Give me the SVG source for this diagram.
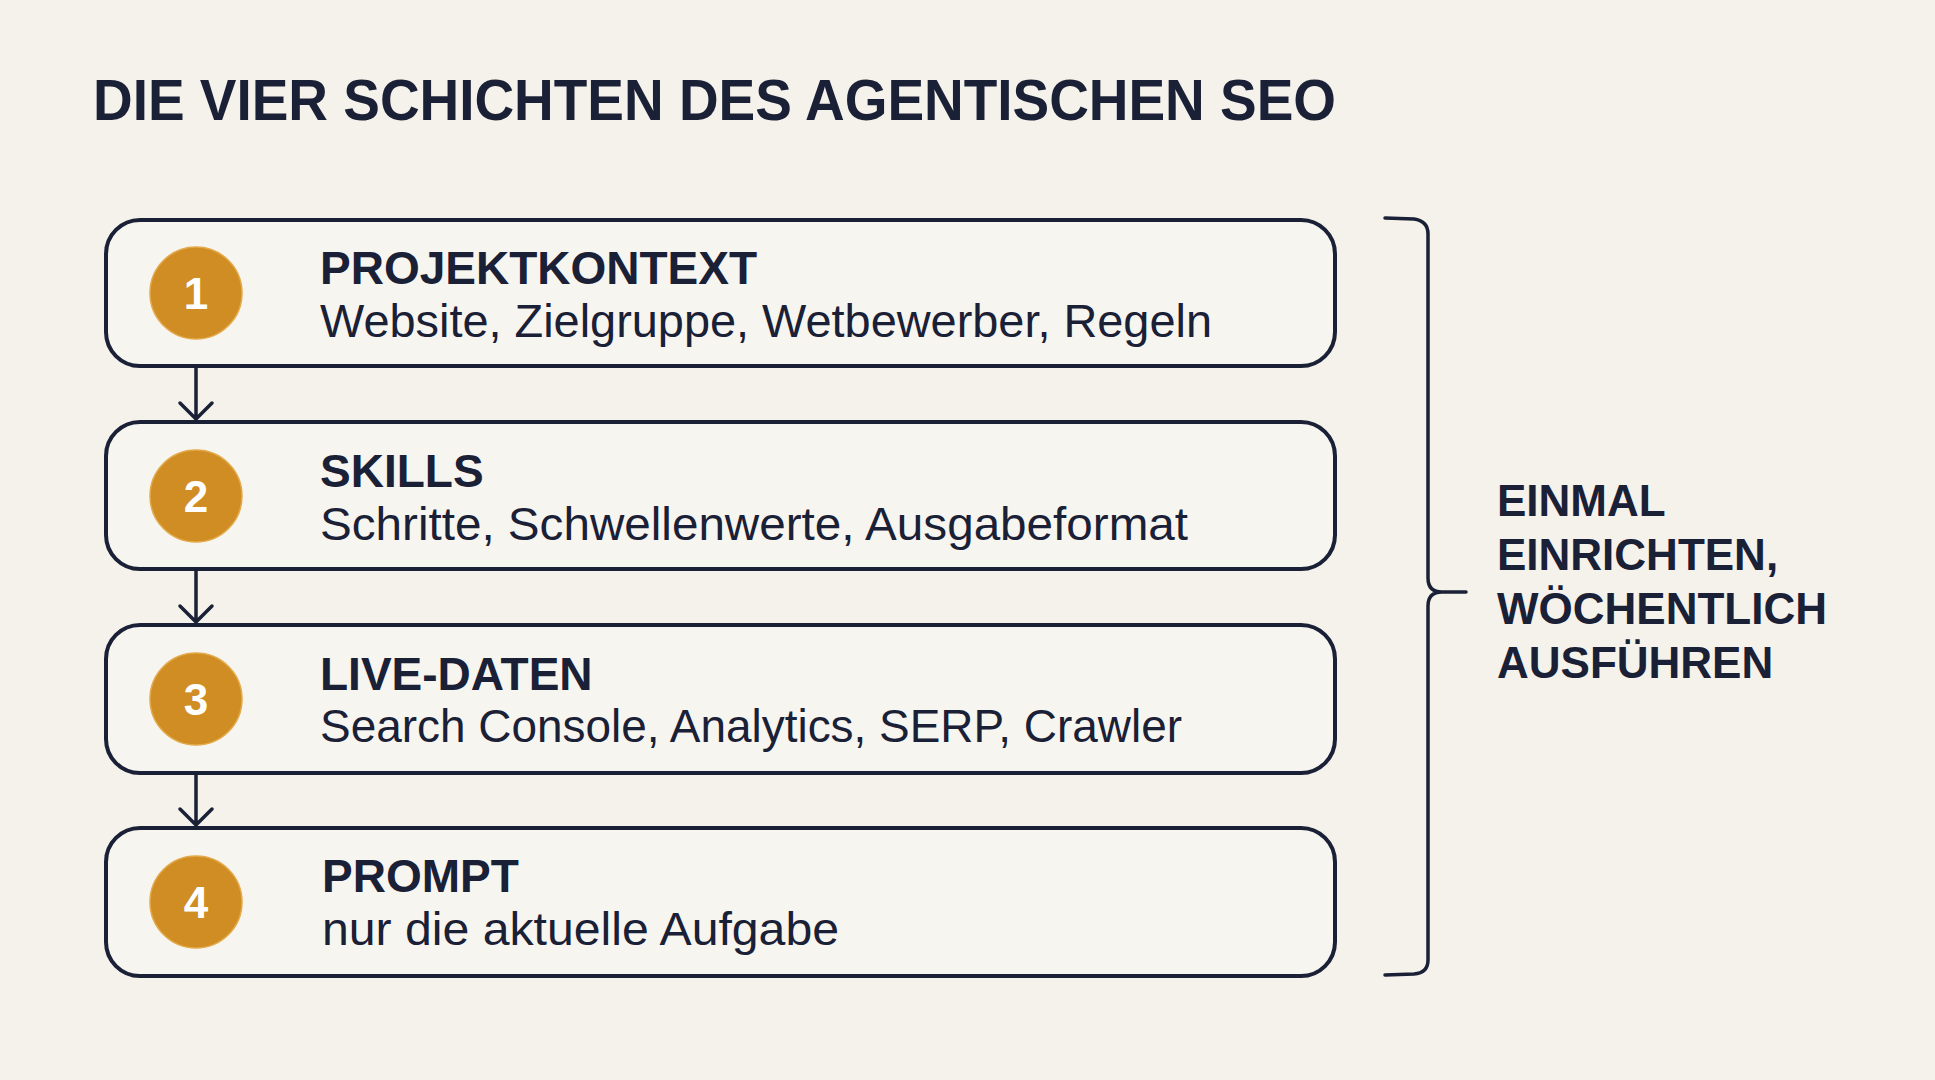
<svg xmlns="http://www.w3.org/2000/svg" width="1935" height="1080" viewBox="0 0 1935 1080">
<defs>
<style>
.bg{fill:#F5F2EB}
.box{fill:#F7F5EF;stroke:#1A2036;stroke-width:4}
.num{fill:#D08D24;stroke:#E3A94A;stroke-width:1.5}
.numt{font-family:"Liberation Sans",Arial,sans-serif;font-weight:700;font-size:44px;fill:#FFFFFF;text-anchor:middle}
.h{font-family:"Liberation Sans",Arial,sans-serif;font-weight:700;font-size:46px;fill:#1A2036}
.s{font-family:"Liberation Sans",Arial,sans-serif;font-weight:400;font-size:46px;fill:#1A2036}
.title{font-family:"Liberation Sans",Arial,sans-serif;font-weight:700;font-size:57px;fill:#1A2036}
.side{font-family:"Liberation Sans",Arial,sans-serif;font-weight:700;font-size:44px;fill:#1A2036}
.conn{fill:none;stroke:#1A2036;stroke-width:3.5;stroke-linecap:round;stroke-linejoin:round}
</style>
</defs>
<rect class="bg" x="0" y="0" width="1935" height="1080"/>
<text class="title" x="93" y="120" textLength="1243" lengthAdjust="spacingAndGlyphs">DIE VIER SCHICHTEN DES AGENTISCHEN SEO</text>

<g id="node1">
<rect class="box" x="106" y="220" width="1229" height="146" rx="34"/>
<circle class="num" cx="196" cy="293" r="46"/>
<text class="numt" x="196" y="309">1</text>
<text class="h" x="320" y="284">PROJEKTKONTEXT</text>
<text class="s" x="320" y="337" textLength="892" lengthAdjust="spacingAndGlyphs">Website, Zielgruppe, Wetbewerber, Regeln</text>
</g>
<g id="node2">
<rect class="box" x="106" y="422" width="1229" height="147" rx="34"/>
<circle class="num" cx="196" cy="496" r="46"/>
<text class="numt" x="196" y="512">2</text>
<text class="h" x="320" y="487">SKILLS</text>
<text class="s" x="320" y="540" textLength="868" lengthAdjust="spacingAndGlyphs">Schritte, Schwellenwerte, Ausgabeformat</text>
</g>
<g id="node3">
<rect class="box" x="106" y="625" width="1229" height="148" rx="34"/>
<circle class="num" cx="196" cy="699" r="46"/>
<text class="numt" x="196" y="715">3</text>
<text class="h" x="320" y="690">LIVE-DATEN</text>
<text class="s" x="320" y="742" textLength="862" lengthAdjust="spacingAndGlyphs">Search Console, Analytics, SERP, Crawler</text>
</g>
<g id="node4">
<rect class="box" x="106" y="828" width="1229" height="148" rx="34"/>
<circle class="num" cx="196" cy="902" r="46"/>
<text class="numt" x="196" y="918">4</text>
<text class="h" x="322" y="892">PROMPT</text>
<text class="s" x="322" y="945" textLength="517" lengthAdjust="spacingAndGlyphs">nur die aktuelle Aufgabe</text>
</g>

<g id="connectors">
<path class="conn" d="M196,368 L196,419 M180,403 L196,419 L212,403"/>
<path class="conn" d="M196,571 L196,622 M180,606 L196,622 L212,606"/>
<path class="conn" d="M196,775 L196,825 M180,809 L196,825 L212,809"/>
</g>

<g id="bracket">
<path class="conn" d="M1385,218 L1414,219 Q1428,221 1428,234 L1428,578 Q1428,592 1442,592 L1466,592 M1442,592 Q1428,592 1428,606 L1428,960 Q1428,973 1414,974 L1385,975"/>
<text class="side" x="1497" y="516">EINMAL</text>
<text class="side" x="1497" y="570">EINRICHTEN,</text>
<text class="side" x="1497" y="624">WÖCHENTLICH</text>
<text class="side" x="1497" y="678">AUSFÜHREN</text>
</g>
</svg>
